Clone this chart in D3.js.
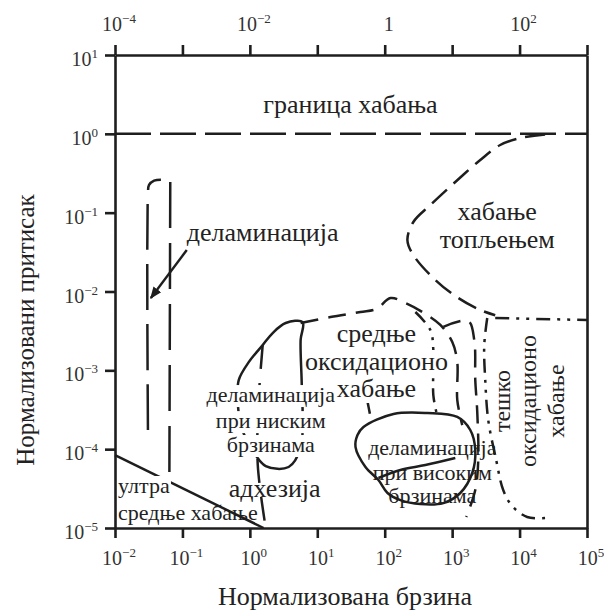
<!DOCTYPE html>
<html>
<head>
<meta charset="utf-8">
<script src="https://cdn.jsdelivr.net/npm/d3@7"></script>
<style>
	body { margin: 0; background: #fff; }
	svg { display: block; }
</style>
</head>
<body>
<script>
const w = 604;
const h = 614;
const margin = { left: 115, right: 587, top: 55, bottom: 528 };
const ink = "#1e1e1e";

// the original is set in a Times-like face; use the first serif that is actually there
function pickFont(names) {
	const ctx = document.createElement("canvas").getContext("2d");
	const probe = "Нормализована брзина 10";
	ctx.font = "40px monospace";
	const base = ctx.measureText(probe).width;
	for (const n of names) {
		ctx.font = `40px "${n}", monospace`;
		if (ctx.measureText(probe).width !== base) return `"${n}", serif`;
	}
	return "serif";
}
const serif = pickFont([
	"Liberation Serif", "Tinos", "Times New Roman", "Times", "DejaVu Serif",
	"Noto Serif", "Nimbus Roman", "FreeSerif", "PT Serif", "Georgia",
]);

// * AXIS TICKS
const speedTicks = [1e-2, 1e-1, 1, 1e1, 1e2, 1e3, 1e4, 1e5];
const speedTickExp = ["−2", "−1", "0", "1", "2", "3", "4", "5"];
const pressureTicks = [1e1, 1, 1e-1, 1e-2, 1e-3, 1e-4, 1e-5];
const pressureTickExp = ["1", "0", "−1", "−2", "−3", "−4", "−5"];
const topTicks = [1e-4, 1e-3, 1e-2, 1e-1, 1, 1e1, 1e2, 1e3];
const topLabelValues = [1e-4, 1e-2, 1, 1e2];
const topLabelBase = ["10", "10", "1", "10"];
const topLabelExp = ["−4", "−2", "", "2"];

// * BOUNDARIES  [normalised speed, normalised pressure]
const seizureLimit = [[1e-2, 1], [1e5, 1]];
const adhesionLine = [[1e-2, 8.4e-5], [1.6, 1e-5]];
const delamLeft = [[0.0308, 1.75e-4], [0.0308, 0.17], [0.032, 0.225], [0.038, 0.255], [0.048, 0.262]];
const delamRight = [[0.066, 0.245], [0.064, 3.7e-5]];
const delamArrow = [[0.116, 0.0336], [0.034, 8.27e-3]];
const meltBoundary = [
	[23900, 0.98], [10200, 0.885], [5160, 0.722], [2612, 0.466], [1114, 0.245],
	[475, 0.125], [266, 0.0762], [217, 0.045], [266, 0.029], [564, 0.014],
	[1233, 8.27e-3], [2612, 5.82e-3], [4353, 5.0e-3],
];
const mildOxUpper = [
	[5.66, 3.98e-3], [15.7, 4.74e-3], [43.7, 5.49e-3], [75.4, 6.0e-3], [122, 8.27e-3],
	[203, 7.14e-3], [362, 5.49e-3], [668, 3.76e-3], [1005, 2.29e-3], [1192, 1.27e-3],
	[1192, 4.2e-4], [1413, 2.02e-4],
];
const mildOxInner = [
	[740, 3.55e-3], [1734, 4.22e-3], [2128, 2.42e-3], [2203, 7.53e-4], [2357, 2.96e-4],
	[2439, 7.28e-5], [2203, 3.03e-5], [1620, 1.38e-5],
];
const mildOxStub = [[53.6, 4.72e-4], [63.6, 2.21e-4]];
const adhesionEdge = [[1.55, 2.09e-3], [1.35, 4.2e-4], [1.31, 6.29e-5], [1.72, 1e-5]];
const severeOxLeft = [[285, 5.49e-3], [475, 3.25e-3], [526, 1.81e-3], [526, 4.86e-4], [583, 2.96e-4]];
const severeOxRight = [
	[3315, 4.61e-3], [2993, 2.09e-3], [3097, 7.53e-4], [3431, 2.34e-4], [4501, 7.28e-5],
	[5718, 3.03e-5], [7766, 1.9e-5], [12950, 1.38e-5], [23900, 1.34e-5],
];
const severeOxTop = [[4353, 4.61e-3], [1e5, 4.35e-3]];
const lowSpeedDelam = [
	[6.06, 4.1e-3], [3.4, 3.98e-3], [2.18, 2.97e-3], [1.55, 2.09e-3], [0.962, 1.27e-3],
	[0.684, 7.53e-4], [0.661, 4.2e-4], [0.733, 2.02e-4], [1.03, 1.06e-4], [1.72, 6.11e-5],
	[3.76, 5.94e-5], [5.66, 1.03e-4], [6.06, 2.34e-4], [5.86, 7.53e-4], [5.66, 2.42e-3],
];
const highSpeedDelam = [
	[48.4, 1.91e-4], [135, 2.79e-4], [429, 2.87e-4], [1192, 2.56e-4], [1857, 1.75e-4],
	[2203, 9.76e-5], [1987, 4.98e-5], [1321, 2.78e-5], [740, 2.07e-5], [338, 2.01e-5],
	[171, 2.26e-5], [110, 2.78e-5], [80.7, 4.06e-5], [51.8, 5.94e-5], [36.9, 1.06e-4],
	[39.5, 1.51e-4],
];
const highSpeedInner = [[80.7, 4.31e-5], [171, 5.44e-5], [401, 6.29e-5], [1114, 7.73e-5]];

// * LABELS  [text, speed, pressure]
const bigLabels = [
	["граница хабања", 31, 1.84],
	["деламинација", 1.55, 0.0436],
	["хабање", 4660, 0.0800],
	["топљењем", 4660, 0.0355],
	["адхезија", 2.33, 2.47e-5],
];
const mildOxLabel = [
	["средње", 75.4, 2.29e-3],
	["оксидационо", 75.4, 1.01e-3],
	["хабање", 75.4, 4.59e-4],
];
const lowDelamLabel = [
	["деламинација", 2.04, 3.96e-4],
	["при ниским", 2.04, 1.85e-4],
	["брзинама", 2.04, 9.2e-5],
];
const highDelamLabel = [
	["деламинација", 508, 8.43e-5],
	["при високим", 508, 4.06e-5],
	["брзинама", 508, 2.07e-5],
];
const severeOxLabel = [
	["тешко", 7260, 4.08e-4],
	["оксидационо", 17580, 4.08e-4],
	["хабање", 45700, 4.08e-4],
];
const ultraLabel = [
	["ултра", 0.0111, 2.78e-5],
	["средње хабање", 0.0111, 1.26e-5],
];

// * SVG
const svg = d3
	.select("body")
	.append("svg")
	.attr("width", w)
	.attr("height", h)
	.style("font-family", serif);

svg.append("defs")
	.append("marker")
	.attr("id", "arrow")
	.attr("viewBox", "0 0 10 10")
	.attr("refX", 9)
	.attr("refY", 5)
	.attr("markerWidth", 5)
	.attr("markerHeight", 5)
	.attr("markerUnits", "strokeWidth")
	.attr("orient", "auto")
	.append("path")
	.attr("d", "M0,1 L10,5 L0,9 Z")
	.attr("fill", ink);

// * SCALES
const x = d3.scaleLog().domain([1e-2, 1e5]).range([margin.left, margin.right]);
const xTop = d3.scaleLog().domain([1e-4, 1e3]).range([margin.left, margin.right]);
const y = d3.scaleLog().domain([1e-5, 1e1]).range([margin.bottom, margin.top]);

const lineGen = d3
	.line()
	.x((d) => x(d[0]))
	.y((d) => y(d[1]));

// labels, optionally on a white patch like the scanned original
function addLabels(layer, rows, size, anchor, boxed) {
	rows.forEach((r) => {
		const t = layer
			.append("text")
			.attr("x", x(r[1]))
			.attr("y", y(r[2]))
			.attr("text-anchor", anchor)
			.style("font-family", serif)
			.attr("font-size", size)
			.attr("fill", "#222")
			.text(r[0]);
		if (boxed) {
			const b = t.node().getBBox();
			layer.insert("rect", () => t.node())
				.attr("x", b.x - 1)
				.attr("y", b.y + 3)
				.attr("width", b.width + 2)
				.attr("height", b.height - 3)
				.attr("fill", "#fff");
		}
	});
}

const under = svg.append("g");
addLabels(under, highDelamLabel, 22, "middle", false);
addLabels(under, [ultraLabel[1]], 22, "start", false);

function drawBoundary(points, dash, curve) {
	svg.append("path")
		.attr("d", lineGen.curve(curve || d3.curveCatmullRom)(points))
		.attr("fill", "none")
		.attr("stroke", ink)
		.attr("stroke-width", 2.5)
		.attr("stroke-dasharray", dash);
}

const dotDash = "14,7,3,7,3,7";
drawBoundary(seizureLimit, "36,9", d3.curveLinear);
drawBoundary(adhesionLine, null, d3.curveLinear);
drawBoundary(delamLeft, "46,14");
drawBoundary(delamRight, "46,15", d3.curveLinear);
drawBoundary(meltBoundary, "20,9");
drawBoundary(mildOxUpper, "18,10");
drawBoundary(mildOxInner, "18,10");
drawBoundary(mildOxStub, "18,10");
drawBoundary(adhesionEdge, "24,14");
drawBoundary(severeOxLeft, dotDash);
drawBoundary(severeOxRight, dotDash);
drawBoundary(severeOxTop, dotDash, d3.curveLinear);
drawBoundary(lowSpeedDelam, null, d3.curveCatmullRomClosed);
drawBoundary(highSpeedDelam, null, d3.curveCatmullRomClosed);
drawBoundary(highSpeedInner, null);

svg.append("path")
	.attr("d", lineGen.curve(d3.curveLinear)(delamArrow))
	.attr("stroke", ink)
	.attr("stroke-width", 2.4)
	.attr("marker-end", "url(#arrow)");

// * REGION LABELS
const over = svg.append("g");
addLabels(over, bigLabels, 26, "middle", false);
addLabels(over, mildOxLabel, 26, "middle", true);
addLabels(over, lowDelamLabel, 22, "middle", true);
addLabels(over, [ultraLabel[0]], 22, "start", true);

severeOxLabel.forEach((r) => {
	over.append("text")
		.attr("transform", `translate(${x(r[1])},${y(r[2])}) rotate(-90)`)
		.attr("text-anchor", "middle")
		.style("font-family", serif)
		.attr("font-size", 24)
		.attr("fill", "#222")
		.text(r[0]);
});

// * AXES
function styleAxis(g) {
	g.selectAll("path, line").attr("stroke", ink).attr("stroke-width", 2.6);
}
svg.append("g")
	.attr("transform", `translate(0,${margin.bottom})`)
	.call(d3.axisBottom(x).tickValues(speedTicks).tickSize(10).tickSizeOuter(0).tickFormat(""))
	.call(styleAxis);
svg.append("g")
	.attr("transform", `translate(0,${margin.top})`)
	.call(d3.axisTop(xTop).tickValues(topTicks).tickSize(10).tickSizeOuter(0).tickFormat(""))
	.call(styleAxis);
svg.append("g")
	.attr("transform", `translate(${margin.left},0)`)
	.call(d3.axisLeft(y).tickValues(pressureTicks).tickSize(10).tickSizeOuter(0).tickFormat(""))
	.call(styleAxis);
svg.append("g")
	.attr("transform", `translate(${margin.right},0)`)
	.call(d3.axisRight(y).tickValues([]).tickSizeOuter(0))
	.call(styleAxis);

// tick labels with superscripts
function tickText(sel) {
	sel.style("font-family", serif).attr("font-size", 20).attr("fill", "#333");
}
const bottomLabels = svg
	.append("g")
	.selectAll("text")
	.data(speedTicks)
	.join("text")
	.attr("x", (d) => x(d) + 4)
	.attr("y", margin.bottom + 37)
	.attr("text-anchor", "middle")
	.call(tickText);
bottomLabels.append("tspan").text("10");
bottomLabels.append("tspan").attr("font-size", 13).attr("dy", -8).text((d, i) => speedTickExp[i]);

const leftLabels = svg
	.append("g")
	.selectAll("text")
	.data(pressureTicks)
	.join("text")
	.attr("x", margin.left - 17)
	.attr("y", (d) => y(d) + 11)
	.attr("text-anchor", "end")
	.call(tickText);
leftLabels.append("tspan").text("10");
leftLabels.append("tspan").attr("font-size", 13).attr("dy", -8).text((d, i) => pressureTickExp[i]);

const topLabels = svg
	.append("g")
	.selectAll("text")
	.data(topLabelValues)
	.join("text")
	.attr("x", (d) => xTop(d) + 4)
	.attr("y", margin.top - 24)
	.attr("text-anchor", "middle")
	.call(tickText);
topLabels.append("tspan").text((d, i) => topLabelBase[i]);
topLabels.append("tspan").attr("font-size", 13).attr("dy", -8).text((d, i) => topLabelExp[i]);

// * AXIS TITLES
svg.append("text")
	.attr("x", 345)
	.attr("y", 605)
	.attr("text-anchor", "middle")
	.style("font-family", serif)
	.attr("font-size", 26)
	.attr("fill", "#222")
	.text("Нормализована брзина");
svg.append("text")
	.attr("transform", "translate(34,330) rotate(-90)")
	.attr("text-anchor", "middle")
	.style("font-family", serif)
	.attr("font-size", 25)
	.attr("fill", "#222")
	.text("Нормализовани притисак");
</script>
</body>
</html>
